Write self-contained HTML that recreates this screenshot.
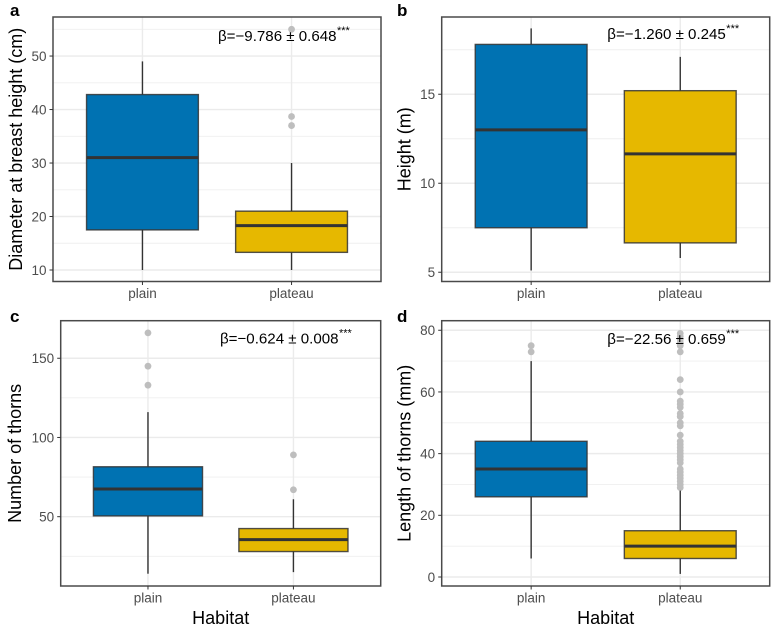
<!DOCTYPE html>
<html>
<head>
<meta charset="utf-8">
<title>Boxplots by habitat</title>
<style>
html,body{margin:0;padding:0;background:#fff;}
svg{display:block;font-family:"Liberation Sans",Arial,sans-serif;}
</style>
</head>
<body>
<svg id="chart" xmlns="http://www.w3.org/2000/svg" width="777" height="628" viewBox="0 0 777 628"></svg>
<script>
const categories = ['plain', 'plateau'];

const aTicks = [10, 20, 30, 40, 50];
const aMinor = [15, 25, 35, 45, 55];
const aPlain = [10, 17.5, 31, 42.8, 49];
const aPlateau = [10, 13.3, 18.3, 21, 30];
const aPlainOut = [];
const aPlateauOut = [37, 38.7, 55];

const bTicks = [5, 10, 15];
const bMinor = [7.5, 12.5, 17.5];
const bPlain = [5.1, 7.5, 13, 17.8, 18.7];
const bPlateau = [5.8, 6.65, 11.65, 15.2, 17.1];
const bPlainOut = [];
const bPlateauOut = [];

const cTicks = [50, 100, 150];
const cMinor = [25, 75, 125];
const cPlain = [14, 50.5, 67.5, 81.5, 116];
const cPlateau = [15, 28, 35.5, 42.5, 61];
const cPlainOut = [133, 145, 166];
const cPlateauOut = [67, 89];

const dTicks = [0, 20, 40, 60, 80];
const dMinor = [10, 30, 50, 70];
const dPlain = [6, 26, 35, 44, 70];
const dPlateau = [1, 6, 10, 15, 28];
const dPlainOut = [73, 75];
const dPlateauOut = [29, 30, 31, 32, 33, 34, 35, 37, 38, 39, 40, 41, 42, 43, 44, 46, 49, 50, 52, 53, 55, 56, 57, 60, 64, 73, 75, 76, 77, 78, 79];

const NS = 'http://www.w3.org/2000/svg';
const svg = document.getElementById('chart');

function make(tag, attrs, text) {
  const el = document.createElementNS(NS, tag);
  for (const k in attrs) el.setAttribute(k, attrs[k]);
  if (text !== undefined) el.textContent = text;
  return el;
}

function drawPanel(p) {
  const g = make('g', {});
  
  
  svg.appendChild(g);

  const w = p.right - p.left;
  const unit = w / 2.2;
  const x = function (i) { return p.left + (0.6 + i) * unit; };
  const y = function (v) { return p.bottom - (v - p.domain[0]) / (p.domain[1] - p.domain[0]) * (p.bottom - p.top); };

  p.minor.forEach(function (v) {
    const l = make('line', { x1: p.left, x2: p.right, y1: y(v), y2: y(v), stroke: '#efefef', 'stroke-width': 0.9 });
    
    
    g.appendChild(l);
  });
  p.ticks.forEach(function (v) {
    const l = make('line', { x1: p.left, x2: p.right, y1: y(v), y2: y(v), stroke: '#ebebeb', 'stroke-width': 1.4 });
    
    
    g.appendChild(l);
  });
  categories.forEach(function (c, i) {
    const l = make('line', { x1: x(i), x2: x(i), y1: p.top, y2: p.bottom, stroke: '#ebebeb', 'stroke-width': 1.4 });
    
    
    g.appendChild(l);
  });

  p.series.forEach(function (s, i) {
    const cx = x(i);
    const half = 0.375 * unit;
    s.out.forEach(function (v) {
      const o = make('circle', { cx: cx, cy: y(v), r: 3.4, fill: '#bebebe' });
      
      
      g.appendChild(o);
    });
    const wl = make('line', { x1: cx, x2: cx, y1: y(s.stats[0]), y2: y(s.stats[1]), stroke: '#333', 'stroke-width': 1.4 });
    
    
    g.appendChild(wl);
    const wu = make('line', { x1: cx, x2: cx, y1: y(s.stats[3]), y2: y(s.stats[4]), stroke: '#333', 'stroke-width': 1.4 });
    
    
    g.appendChild(wu);
    const box = make('rect', { x: cx - half, width: half * 2, y: y(s.stats[3]), height: y(s.stats[1]) - y(s.stats[3]), fill: s.fill, stroke: '#333', 'stroke-opacity': 0.85, 'stroke-width': 1.4 });
    
    
    g.appendChild(box);
    const med = make('line', { x1: cx - half, x2: cx + half, y1: y(s.stats[2]), y2: y(s.stats[2]), stroke: '#333', 'stroke-width': 3 });
    
    
    g.appendChild(med);
  });

  const border = make('rect', { x: p.left, y: p.top, width: w, height: p.bottom - p.top, fill: 'none', stroke: '#4a4a4a', 'stroke-width': 1.5 });
  
  
  g.appendChild(border);

  p.ticks.forEach(function (v) {
    const t = make('line', { x1: p.left - 3.5, x2: p.left, y1: y(v), y2: y(v), stroke: '#333', 'stroke-width': 1 });
    
    
    g.appendChild(t);
    const lab = make('text', { x: p.left - 6.5, y: y(v) + 4.9, 'text-anchor': 'end', 'font-size': 13.5, fill: '#4d4d4d' }, String(v));
    
    
    g.appendChild(lab);
  });
  categories.forEach(function (c, i) {
    const t = make('line', { x1: x(i), x2: x(i), y1: p.bottom, y2: p.bottom + 3.5, stroke: '#333', 'stroke-width': 1 });
    
    
    g.appendChild(t);
    const lab = make('text', { x: x(i), y: p.bottom + 16.5, 'text-anchor': 'middle', 'font-size': 13.5, fill: '#4d4d4d' }, c);
    
    
    g.appendChild(lab);
  });

  const cy = (p.top + p.bottom) / 2;
  const yt = make('text', { x: 0, y: 0, transform: 'translate(' + p.titleX + ' ' + cy + ') rotate(-90)', 'text-anchor': 'middle', 'font-size': 18, fill: '#000' }, p.yTitle);
  
  
  g.appendChild(yt);

  if (p.showX) {
    const xt = make('text', { x: (p.left + p.right) / 2, y: 624, 'text-anchor': 'middle', 'font-size': 18, fill: '#000' }, 'Habitat');
    
    
    g.appendChild(xt);
  }

  const letter = make('text', { x: p.letterX, y: p.letterY, 'font-size': 17, 'font-weight': 'bold', fill: '#000' }, p.letter);
  
  
  g.appendChild(letter);

  const ann = make('text', { x: p.annX, y: p.annY, 'font-size': 15.1, fill: '#000' }, p.ann);
  
  
  g.appendChild(ann);
  const stars = make('text', { x: p.annX + 119, y: p.annY - 7, 'font-size': 11, fill: '#000' }, '***');
  
  
  g.appendChild(stars);
}

const BLUE = '#0072b2';
const GOLD = '#e6b800';

drawPanel({ letter: 'a', left: 53, right: 381, top: 17, bottom: 281.5, domain: [7.85, 57.3], ticks: aTicks, minor: aMinor,
  series: [{ stats: aPlain, out: aPlainOut, fill: BLUE }, { stats: aPlateau, out: aPlateauOut, fill: GOLD }],
  yTitle: 'Diameter at breast height (cm)', titleX: 22, showX: false, letterX: 10, letterY: 16,
  ann: 'β=−9.786 ± 0.648', annX: 218, annY: 41 });

drawPanel({ letter: 'b', left: 441.7, right: 769.7, top: 17, bottom: 281.5, domain: [4.48, 19.34], ticks: bTicks, minor: bMinor,
  series: [{ stats: bPlain, out: bPlainOut, fill: BLUE }, { stats: bPlateau, out: bPlateauOut, fill: GOLD }],
  yTitle: 'Height (m)', titleX: 410.7, showX: false, letterX: 397, letterY: 16,
  ann: 'β=−1.260 ± 0.245', annX: 607.3, annY: 39 });

drawPanel({ letter: 'c', left: 60.7, right: 380.7, top: 320.7, bottom: 586, domain: [6.25, 173.7], ticks: cTicks, minor: cMinor,
  series: [{ stats: cPlain, out: cPlainOut, fill: BLUE }, { stats: cPlateau, out: cPlateauOut, fill: GOLD }],
  yTitle: 'Number of thorns', titleX: 21, showX: true, letterX: 10, letterY: 322,
  ann: 'β=−0.624 ± 0.008', annX: 220, annY: 343.5 });

drawPanel({ letter: 'd', left: 441.7, right: 769.7, top: 320.7, bottom: 586, domain: [-2.92, 83.1], ticks: dTicks, minor: dMinor,
  series: [{ stats: dPlain, out: dPlainOut, fill: BLUE }, { stats: dPlateau, out: dPlateauOut, fill: GOLD }],
  yTitle: 'Length of thorns (mm)', titleX: 410.7, showX: true, letterX: 397, letterY: 322,
  ann: 'β=−22.56 ± 0.659', annX: 607.3, annY: 344 });
</script>
</body>
</html>
